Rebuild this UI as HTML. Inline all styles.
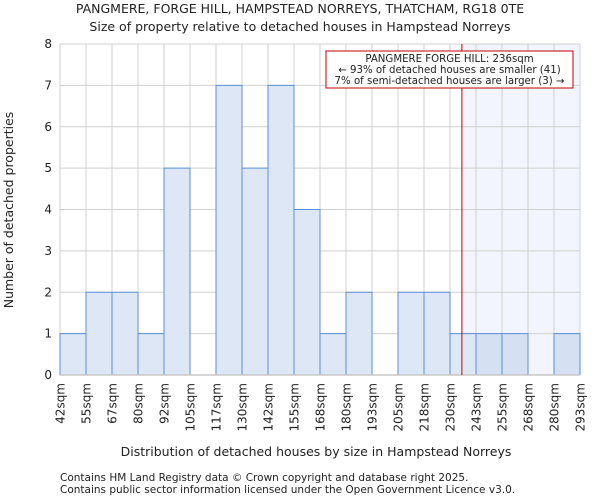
<!DOCTYPE html>
<html><head><meta charset="utf-8"><style>
body{margin:0;background:#fff;font-family:"DejaVu Sans","Liberation Sans",sans-serif;}
svg text{font-family:"DejaVu Sans","Liberation Sans",sans-serif;fill:#222;}
</style></head><body>
<svg id="c" width="600" height="500" xmlns="http://www.w3.org/2000/svg">
<text x="300" y="13" text-anchor="middle" font-size="12.5">PANGMERE, FORGE HILL, HAMPSTEAD NORREYS, THATCHAM, RG18 0TE</text>
<text x="300" y="31" text-anchor="middle" font-size="12.5">Size of property relative to detached houses in Hampstead Norreys</text>
<g id="plot"></g>
<text x="316" y="456" text-anchor="middle" font-size="12.5">Distribution of detached houses by size in Hampstead Norreys</text>
<text transform="translate(13,210) rotate(-90)" text-anchor="middle" font-size="12.5">Number of detached properties</text>
<text x="60" y="481" font-size="10.5" fill="#444">Contains HM Land Registry data © Crown copyright and database right 2025.</text>
<text x="60" y="493" font-size="10.5" fill="#444">Contains public sector information licensed under the Open Government Licence v3.0.</text>
</svg>
<script>
const categories=["42sqm","55sqm","67sqm","80sqm","92sqm","105sqm","117sqm","130sqm","142sqm","155sqm","168sqm","180sqm","193sqm","205sqm","218sqm","230sqm","243sqm","255sqm","268sqm","280sqm","293sqm"];
const counts=[1,2,2,1,5,0,7,5,7,4,1,2,0,2,2,1,1,1,0,1];
const yTicks=[0,1,2,3,4,5,6,7,8];
const markerValue=236;
const binStart=42, binWidth=12.55;
const X0=60,X1=580,Y0=375,Y1=44,yMax=8;
const bw=(X1-X0)/counts.length;
const xs=i=>X0+i*bw;
const xv=v=>X0+(v-binStart)/binWidth*bw;
const ys=v=>Y0-(v/yMax)*(Y0-Y1);
const NS="http://www.w3.org/2000/svg";
const g=document.getElementById('plot');
function mk(t,a){const e=document.createElementNS(NS,t);for(const k in a)e.setAttribute(k,a[k]);g.appendChild(e);return e;}
const mx=xv(markerValue);
let sh=mk('rect',{x:mx,y:Y1,width:X1-mx,height:Y0-Y1,fill:'#f2f5fd'});


for(let i=0;i<=counts.length;i++){let l=mk('line',{x1:xs(i),x2:xs(i),y1:Y1,y2:Y0,stroke:'#d0d0d0','stroke-width':1});

}
yTicks.forEach(t=>{let l=mk('line',{x1:X0,x2:X1,y1:ys(t),y2:ys(t),stroke:'#d0d0d0','stroke-width':1});


let tx=mk('text',{x:X0-8,y:ys(t)+4,'text-anchor':'end','font-size':'12'});tx.textContent=t;

});
counts.forEach((c,i)=>{if(!c)return;let r=mk('rect',{x:xs(i),y:ys(c),width:bw,height:Y0-ys(c),fill:xs(i)>=mx?'#d5e1f3':'#dde7f5',stroke:'#5b8fd6','stroke-width':1});

});
categories.forEach((c,i)=>{let x=xs(i);let tx=mk('text',{transform:`translate(${x+4.5},${Y0+8}) rotate(-90)`,'text-anchor':'end','font-size':'12'});tx.textContent=c;

});
let ax=mk('line',{x1:X0,x2:X1,y1:Y0,y2:Y0,stroke:'#c8c8c8','stroke-width':1.5});


let ml=mk('line',{x1:mx,x2:mx,y1:Y1,y2:Y0,stroke:'#c00000','stroke-width':1});


let bx=mk('rect',{x:326,y:51,width:247,height:37,fill:'#fff',stroke:'#c00000','stroke-width':1});


["PANGMERE FORGE HILL: 236sqm","← 93% of detached houses are smaller (41)","7% of semi-detached houses are larger (3) →"].forEach((s,i)=>{let t=mk('text',{x:449.5,y:62+i*11,'text-anchor':'middle','font-size':'10.2'});t.textContent=s;

});
</script>
</body></html>
